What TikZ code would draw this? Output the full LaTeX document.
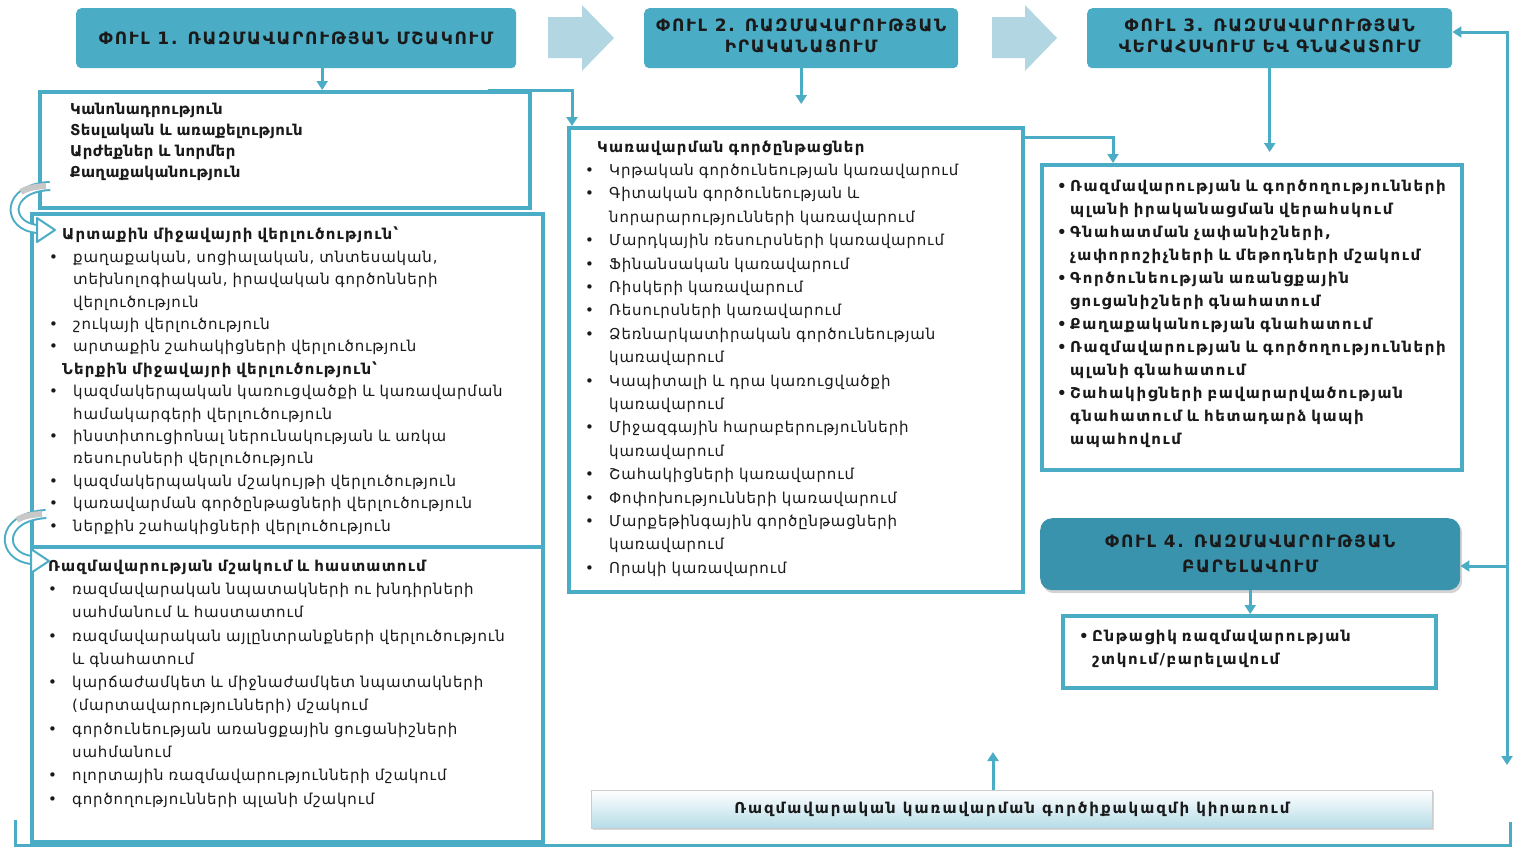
\documentclass[tikz,border=0pt]{standalone}
\usepackage{fontspec}
\setmainfont{DejaVu Sans}
\newfontfamily\fbody{DejaVu Sans}[LetterSpace=5.5]
\newfontfamily\fbold{DejaVu Sans}[LetterSpace=8]
\newfontfamily\fA{DejaVu Sans}[LetterSpace=2.5]
\newfontfamily\fE{DejaVu Sans}[LetterSpace=11]
\newfontfamily\fG{DejaVu Sans}[LetterSpace=13]
\newfontfamily\fhdr{DejaVu Sans}[LetterSpace=10]
\usetikzlibrary{arrows.meta,shadows}
\definecolor{tealc}{HTML}{4BACC6}
\definecolor{tealdk}{HTML}{3A93AD}
\definecolor{chev}{HTML}{B3D6E3}
\definecolor{txt}{HTML}{1A1A1A}
\definecolor{barb}{HTML}{B5DCE7}
\definecolor{bandg}{HTML}{C8C8C8}
\newcommand\bl[1]{\noindent\hangindent=24pt\hangafter=1\makebox[24pt][l]{•}#1\par}
\newcommand\bk[1]{\noindent\hangindent=13pt\hangafter=1\makebox[13pt][l]{•}#1\par}
\newcommand\hd[2][0pt]{\noindent\hspace*{#1}{\fbold\bfseries #2}\par}
\begin{document}
\begin{tikzpicture}[x=1pt,y=-1pt,
  hdr/.style={fill=tealc, rounded corners=5pt, anchor=north west, inner sep=0pt, align=center, text=txt,
     font=\fhdr\bfseries\fontsize{17}{21}\selectfont},
  box/.style={draw=tealc, line width=3.5pt, fill=white, anchor=north west, inner sep=0pt},
  conn/.style={draw=tealc, line width=3pt, -{Triangle[width=11pt,length=9pt]}},
  plain/.style={draw=tealc, line width=3pt},
  lst/.style={anchor=north west, inner sep=0pt, align=left, text=txt, font=\fbody\fontsize{15}{22.4}\selectfont},
  chevron/.style={fill=chev, draw=none}
]
\useasboundingbox (0,0) rectangle (1514,847);

% phase headers
\node[hdr, minimum width=440pt, minimum height=60pt] (p1) at (76,8) {ՓՈՒԼ 1. ՌԱԶՄԱՎԱՐՈՒԹՅԱՆ ՄՇԱԿՈՒՄ};
\node[hdr, minimum width=314pt, minimum height=60pt] (p2) at (644,8) {ՓՈՒԼ 2. ՌԱԶՄԱՎԱՐՈՒԹՅԱՆ\\ԻՐԱԿԱՆԱՑՈՒՄ\\[-15pt]\mbox{}};
\node[hdr, minimum width=365pt, minimum height=60pt] (p3) at (1087,8) {ՓՈՒԼ 3. ՌԱԶՄԱՎԱՐՈՒԹՅԱՆ\\ՎԵՐԱՀՍԿՈՒՄ ԵՎ ԳՆԱՀԱՏՈՒՄ\\[-15pt]\mbox{}};
\node[hdr, fill=tealdk, rounded corners=12pt, drop shadow={shadow xshift=2pt, shadow yshift=-3pt, opacity=0.35},
      font=\fhdr\bfseries\fontsize{17}{25}\selectfont,
      minimum width=420pt, minimum height=72pt] (p4) at (1040,518) {ՓՈՒԼ 4. ՌԱԶՄԱՎԱՐՈՒԹՅԱՆ\\ԲԱՐԵԼԱՎՈՒՄ};

% chevrons between phases
\fill[chevron] (548,17) -- (582,17) -- (582,5) -- (614,38) -- (582,71) -- (582,58) -- (548,58) -- cycle;
\fill[chevron] (992,17) -- (1025,17) -- (1025,5) -- (1057,38) -- (1025,71) -- (1025,58) -- (992,58) -- cycle;

% boxes
\node[box, minimum width=490pt, minimum height=116pt] (A) at (38,90) {};
\node[box, minimum width=511pt, minimum height=333pt] (B) at (30,212) {};
\node[box, minimum width=511pt, minimum height=295pt] (C) at (30,545) {};
\node[box, minimum width=454pt, minimum height=464pt] (D) at (567,126) {};
\node[box, minimum width=420pt, minimum height=305pt] (E) at (1040,163) {};
\node[box, minimum width=373pt, minimum height=72pt] (F) at (1061,614) {};
\node[anchor=north west, inner sep=0pt, minimum width=841pt, minimum height=38pt, draw=black!20, line width=0.8pt,
      top color=white, bottom color=barb, drop shadow={shadow xshift=2pt, shadow yshift=-2pt, opacity=0.3},
      font=\fG\bfseries\fontsize{15}{16}\selectfont, text=txt] (G) at (591,790)
      {Ռազմավարական կառավարման գործիքակազմի կիրառում};

% box A text
\node[lst, font=\fA\bfseries\fontsize{15}{21}\selectfont, text width=440pt] (tA) at (70,102.5) {%
Կանոնադրություն\par Տեսլական և առաքելություն\par Արժեքներ և նորմեր\par Քաղաքականություն\par};

% box B text
\node[lst, text width=490pt] (tB) at (49,227) {%
\hd[13pt]{Արտաքին միջավայրի վերլուծություն՝}
\bl{քաղաքական, սոցիալական, տնտեսական,\break տեխնոլոգիական, իրավական գործոնների\break վերլուծություն}
\bl{շուկայի վերլուծություն}
\bl{արտաքին շահակիցների վերլուծություն}
\hd[13pt]{Ներքին միջավայրի վերլուծություն՝}
\bl{կազմակերպական կառուցվածքի և կառավարման\break համակարգերի վերլուծություն}
\bl{ինստիտուցիոնալ ներունակության և առկա\break ռեսուրսների վերլուծություն}
\bl{կազմակերպական մշակույթի վերլուծություն}
\bl{կառավարման գործընթացների վերլուծություն}
\bl{ներքին շահակիցների վերլուծություն}};

% box C text
\node[lst, text width=490pt, font=\fbody\fontsize{15}{23.3}\selectfont] (tC) at (48,559.5) {%
\hd{Ռազմավարության մշակում և հաստատում}
\bl{ռազմավարական նպատակների ու խնդիրների\break սահմանում և հաստատում}
\bl{ռազմավարական այլընտրանքների վերլուծություն\break և գնահատում}
\bl{կարճաժամկետ և միջնաժամկետ նպատակների\break (մարտավարությունների) մշակում}
\bl{գործունեության առանցքային ցուցանիշների\break սահմանում}
\bl{ոլորտային ռազմավարությունների մշակում}
\bl{գործողությունների պլանի մշակում}};

% box D text
\node[lst, text width=440pt, font=\fbody\fontsize{15}{23.4}\selectfont] (tD) at (585,140.5) {%
\hd[12pt]{Կառավարման գործընթացներ}
\bl{Կրթական գործունեության կառավարում}
\bl{Գիտական գործունեության և\break նորարարությունների կառավարում}
\bl{Մարդկային ռեսուրսների կառավարում}
\bl{Ֆինանսական կառավարում}
\bl{Ռիսկերի կառավարում}
\bl{Ռեսուրսների կառավարում}
\bl{Ձեռնարկատիրական գործունեության\break կառավարում}
\bl{Կապիտալի և դրա կառուցվածքի\break կառավարում}
\bl{Միջազգային հարաբերությունների\break կառավարում}
\bl{Շահակիցների կառավարում}
\bl{Փոփոխությունների կառավարում}
\bl{Մարքեթինգային գործընթացների\break կառավարում}
\bl{Որակի կառավարում}};

% box E text
\node[lst, text width=420pt, font=\fE\bfseries\fontsize{15}{23}\selectfont] (tE) at (1057,179.5) {%
\bk{Ռազմավարության և գործողությունների\break պլանի իրականացման վերահսկում}
\bk{Գնահատման չափանիշների,\break չափորոշիչների և մեթոդների մշակում}
\bk{Գործունեության առանցքային\break ցուցանիշների գնահատում}
\bk{Քաղաքականության գնահատում}
\bk{Ռազմավարության և գործողությունների\break պլանի գնահատում}
\bk{Շահակիցների բավարարվածության\break գնահատում և հետադարձ կապի\break ապահովում}};

% box F text
\node[lst, text width=360pt, font=\fE\bfseries\fontsize{15}{23}\selectfont] (tF) at (1079,629.5) {%
\bk{Ընթացիկ ռազմավարության\break շտկում/բարելավում}};

% connectors
\coordinate (p2e) at (800,104);
\coordinate (p3e) at (1269,152);
\coordinate (r0) at (1507,32);
\coordinate (r1) at (1507,765);
\coordinate (r2) at (1507,566);
\coordinate (gtop) at (993,752);
\coordinate (bl0) at (15,820);
\coordinate (bl1) at (15,845);
\coordinate (br1) at (1510,845);
\coordinate (br0) at (1510,822);

\draw[conn] ([xshift=26pt]p1.south) -- ([xshift=26pt]p1.south |- A.north);
\draw[conn] ([xshift=-44pt]A.north east) -| ([xshift=5pt]D.north west);
\draw[conn] (p2.south) -- (p2.south |- p2e);
\draw[conn] ([yshift=-11pt]D.north east) -| ([xshift=73pt]E.north west);
\draw[conn] (p3.south) -- (p3.south |- p3e);
\draw[conn, {Triangle[width=11pt,length=9pt]}-{Triangle[width=11pt,length=9pt]}] (r1) -- (r0) -- (r0 -| p3.east);
\draw[conn] (r2) -- (r2 -| p4.east);
\draw[conn] (p4.south) -- (p4.south |- F.north);
\draw[conn] (G.north -| gtop) -- (gtop);
\draw[plain] (bl0) -- (bl1) -- (br1) -- (br0);

% curved arrows on the left
\draw[draw=tealc, line width=2pt, double=white, double distance=6pt] (50,186) .. controls (4,188) and (6,227) .. (38,229);
\draw[bandg, line width=6pt] (46,186) .. controls (36,186.5) and (27,188) .. (21,192);
\filldraw[draw=tealc, fill=white, line width=2pt, line join=round] (37,218) -- (55,230) -- (37,242) -- cycle;

\draw[draw=tealc, line width=2pt, double=white, double distance=6pt] (46,514) .. controls (-2,517) and (0,557) .. (32,560);
\draw[bandg, line width=6pt] (42,514) .. controls (32,514.5) and (23,516) .. (17,520);
\filldraw[draw=tealc, fill=white, line width=2pt, line join=round] (31,549) -- (49,561) -- (31,573) -- cycle;
\end{tikzpicture}
\end{document}
